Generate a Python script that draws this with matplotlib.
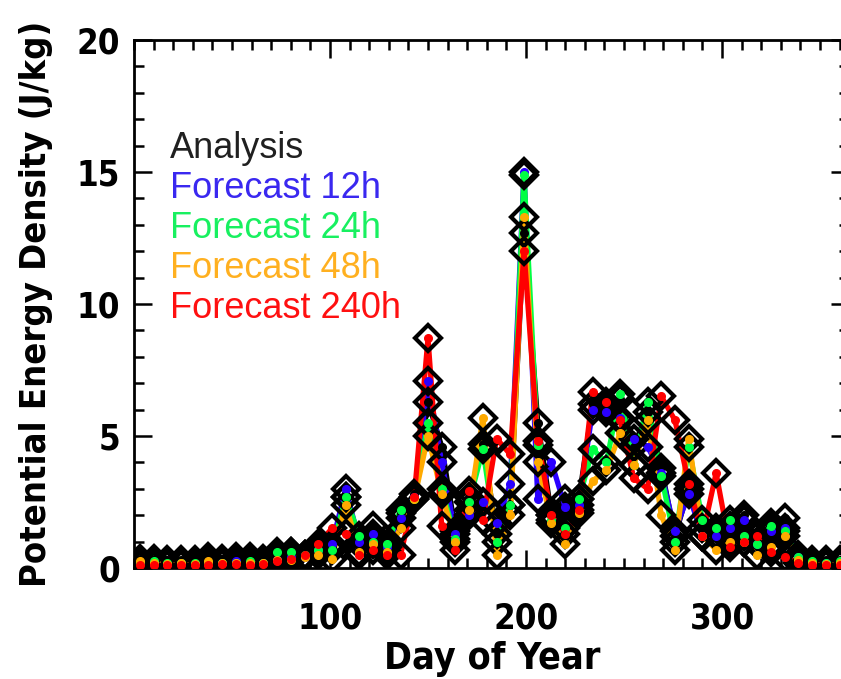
import matplotlib
matplotlib.use("Agg")
import matplotlib.pyplot as plt
from matplotlib.ticker import MultipleLocator

# day of year of each weekly sample
days = [3, 10, 17, 24, 31, 38, 45, 52, 59, 66, 73, 80, 87, 94, 101, 108, 115,
        122, 129, 136, 143, 150, 157, 164, 171, 178, 185, 192, 199, 206, 213,
        220, 227, 234, 241, 248, 255, 262, 269, 276, 283, 290, 297, 304, 311,
        318, 325, 332, 339, 346, 353, 360]

analysis = [0.35, 0.35, 0.3, 0.3, 0.3, 0.4, 0.35, 0.4, 0.4, 0.35, 0.5, 0.6,
            0.5, 0.8, 0.8, 2.7, 0.9, 1.6, 0.9, 2.1, 2.8, 6.3, 4.6, 1.4, 2.7,
            4.7, 1.3, 2.4, 12.7, 5.5, 2.0, 2.6, 2.6, 6.2, 6.1, 6.4, 4.6, 5.9,
            3.8, 1.2, 3.0, 1.5, 1.3, 1.6, 2.0, 1.0, 1.7, 1.9, 0.5, 0.3, 0.3, 0.3]
fc12 = [0.2, 0.2, 0.15, 0.2, 0.15, 0.2, 0.2, 0.25, 0.2, 0.2, 0.3, 0.4,
        0.4, 0.7, 0.9, 3.0, 1.0, 1.3, 0.8, 1.9, 2.7, 7.1, 4.0, 1.3, 2.0,
        2.5, 1.7, 3.2, 15.0, 2.6, 4.0, 2.3, 2.4, 6.0, 5.9, 5.7, 4.9, 4.6,
        3.6, 1.4, 2.8, 1.2, 1.2, 1.5, 1.8, 0.9, 1.4, 1.5, 0.4, 0.2, 0.2, 0.2]
fc24 = [0.2, 0.25, 0.2, 0.2, 0.2, 0.15, 0.2, 0.2, 0.25, 0.2, 0.6, 0.6,
        0.5, 0.7, 0.7, 2.7, 1.2, 1.0, 0.9, 2.2, 2.6, 5.5, 3.0, 1.1, 2.5,
        4.5, 1.0, 2.4, 14.9, 4.65, 1.8, 1.5, 2.6, 4.5, 4.0, 6.6, 3.9, 6.3,
        3.5, 1.0, 4.6, 1.8, 1.5, 1.8, 1.2, 0.9, 1.6, 1.4, 0.4, 0.25, 0.2, 0.25]
fc48 = [0.25, 0.2, 0.15, 0.2, 0.15, 0.25, 0.2, 0.2, 0.2, 0.2, 0.3, 0.3,
        0.4, 0.5, 0.35, 2.4, 0.6, 0.9, 0.6, 1.5, 2.6, 5.0, 2.8, 1.0, 2.2,
        5.7, 0.5, 2.0, 13.3, 4.0, 1.7, 0.9, 2.1, 3.3, 3.7, 5.1, 3.9, 5.6,
        2.0, 0.7, 4.9, 1.2, 0.7, 1.0, 1.0, 0.5, 0.8, 1.2, 0.3, 0.2, 0.15, 0.2]
fc240 = [0.1, 0.1, 0.1, 0.1, 0.1, 0.1, 0.15, 0.15, 0.1, 0.15, 0.25, 0.35,
         0.5, 0.9, 1.5, 1.3, 0.5, 0.7, 0.5, 0.5, 2.7, 8.7, 1.6, 0.7, 2.9,
         1.8, 4.9, 4.3, 12.0, 4.8, 2.0, 1.3, 2.2, 6.65, 6.3, 5.6, 3.4, 3.0,
         6.5, 5.6, 3.2, 1.2, 3.6, 0.8, 1.0, 1.2, 0.6, 0.4, 0.2, 0.1, 0.1, 0.1]

labels = ["Analysis", "Forecast 12h", "Forecast 24h", "Forecast 48h", "Forecast 240h"]
series = [analysis, fc12, fc24, fc48, fc240]
colors = ["black", "#2a00ff", "#00ff44", "#ffaa00", "#ff0000"]
text_colors = ["#202020", "#3a28f0", "#18f060", "#ffb020", "#ff1010"]

bold = dict(family="DejaVu Sans", fontweight="bold", fontstretch="condensed")

fig = plt.figure(figsize=(8.41, 6.79), dpi=100)
ax = fig.add_axes([0.1593, 0.1635, 0.8507, 0.7776])

# lines underneath, open diamonds above them, small colored dot in each diamond
for vals, col in zip(series, colors):
    ax.plot(days, vals, color=col, lw=3.8, solid_joinstyle="round", zorder=2)
    ax.plot(days, vals, ls="none", marker="D", ms=13.5, mfc="none",
            mec="black", mew=3, zorder=3)
    ax.plot(days, vals, ls="none", marker="o", ms=5.5, color=col, zorder=4)

ax.set_xlim(0, 365)
ax.set_ylim(0, 20)
ax.set_xticks([100, 200, 300])
ax.xaxis.set_minor_locator(MultipleLocator(10))
ax.set_yticks([0, 5, 10, 15, 20])
ax.yaxis.set_minor_locator(MultipleLocator(1))
ax.tick_params(which="both", direction="in", top=True, right=True, width=1.8)
ax.tick_params(which="major", length=13)
ax.tick_params(which="minor", length=7)
ax.tick_params(axis="x", which="major", pad=24)
ax.tick_params(axis="y", which="major", pad=10)
ax.set_xticklabels(["100", "200", "300"], fontsize=25, **bold)
ax.set_yticklabels(["0", "5", "10", "15", "20"], fontsize=25, **bold)
for sp in ax.spines.values():
    sp.set_linewidth(2)

ax.set_xlabel("Day of Year", fontsize=27, labelpad=4, **bold)
ax.set_ylabel("Potential Energy Density (J/kg)", fontsize=26,
              labelpad=17, **bold)

for i, (lab, tc) in enumerate(zip(labels, text_colors)):
    ax.text(0.05, 0.795 - i * 0.0758, lab, transform=ax.transAxes,
            color=tc, fontsize=26, family="Liberation Sans", va="center")

fig.savefig("out.png", dpi=100)
